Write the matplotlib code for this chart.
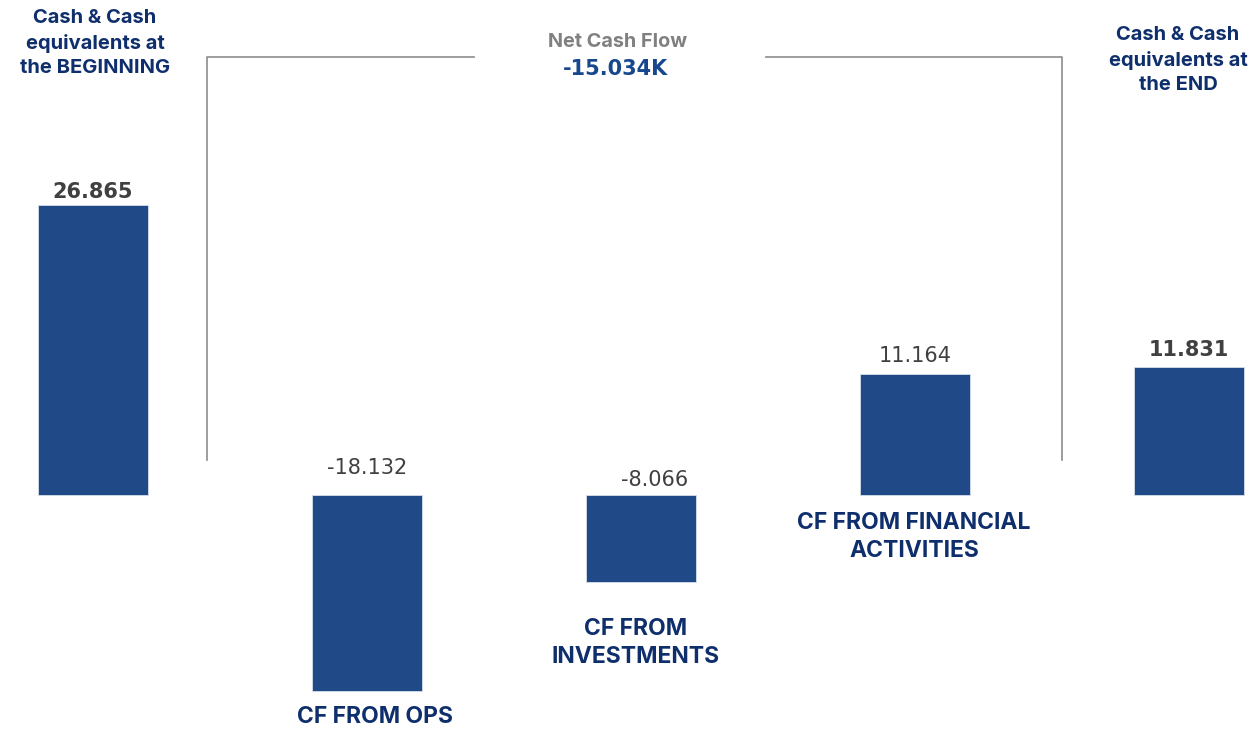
import matplotlib
matplotlib.use("Agg")
import matplotlib.pyplot as plt

# data
categories = ["Cash & Cash\nequivalents at\nthe BEGINNING", "CF FROM OPS", "CF FROM\nINVESTMENTS",
              "CF FROM FINANCIAL\nACTIVITIES", "Cash & Cash\nequivalents at\nthe END"]
values = [26.865, -18.132, -8.066, 11.164, 11.831]
value_labels = ["26.865", "-18.132", "-8.066", "11.164", "11.831"]
is_total = [True, False, False, False, True]
net_cash_flow = "-15.034K"

BAR = "#1F4A87"
NAVY = "#0E2E6C"
VALUE_GREY = "#404040"
LINE_GREY = "#8C8C8C"

W, H = 1250, 729
fig = plt.figure(figsize=(W / 100, H / 100), dpi=100)
ax = fig.add_axes([0, 0, 1, 1])
ax.axis("off")

# pixel layout: bar centers 274px apart starting at 93px, zero line at 495px, 10.8px per unit
x0, dx, y0, dy = 93, 274, 495, 10.8
ax.set_xlim(-x0 / dx, (W - x0) / dx)
ax.set_ylim(-(H - y0) / dy, y0 / dy)


def px(xp, yp):
    return (xp - x0) / dx, (y0 - yp) / dy


xs = list(range(len(values)))
ax.bar(xs, values, width=0.40, color=BAR, edgecolor="#D6DEEA", linewidth=0.6)

# value labels (pixel offset of label centre from bar end / zero line)
label_dx = [0, 0, 14, 0, 0]
label_dy = [13, 27, 15, 18, 17]
for i, (v, lab, tot) in enumerate(zip(values, value_labels, is_total)):
    ax.annotate(lab, xy=(i, max(v, 0)), xytext=(label_dx[i] * 0.72, label_dy[i] * 0.72),
                textcoords="offset points", ha="center", va="center",
                fontsize=15, color=VALUE_GREY, family="DejaVu Sans",
                fontweight="bold" if tot else "normal")

# category labels (pixel centres); the two totals sit as headers
cat_pos = [(95, 43), (375, 717), (636, 643), (914, 537), (1178, 60)]
for (cx, cy), cat, tot in zip(cat_pos, categories, is_total):
    ax.text(*px(cx, cy), cat, ha="center", va="center",
            fontsize=14.5 if tot else 16.5, fontweight="bold",
            family="Inter", color=NAVY, linespacing=1.43 if tot else 1.4)

# net cash flow bracket
lx, rx, top, bot = 207, 1062, 57, 460
gap_l, gap_r = 474, 766
ax.plot(*zip(px(lx, bot), px(lx, top), px(gap_l, top)), color=LINE_GREY, lw=1.2)
ax.plot(*zip(px(gap_r, top), px(rx, top), px(rx, bot)), color=LINE_GREY, lw=1.2)
ax.text(*px(618, 42), "Net Cash Flow", ha="center", va="center", fontsize=14.3,
        fontweight="bold", family="Inter", color="#808080")
ax.text(*px(615, 69), net_cash_flow, ha="center", va="center", fontsize=15,
        fontweight="bold", family="DejaVu Sans", color="#17488E")

fig.savefig("out.png", dpi=100)
